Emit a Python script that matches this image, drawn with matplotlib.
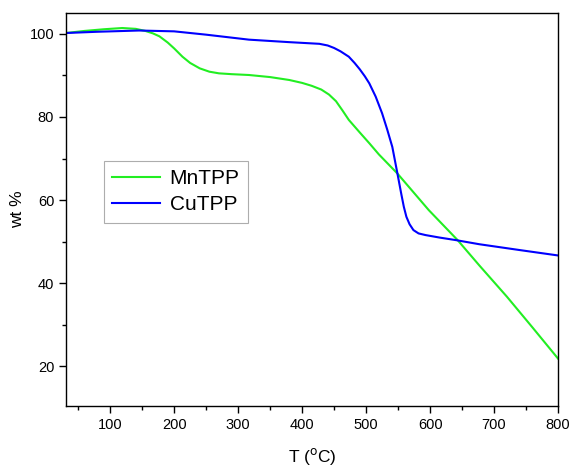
import matplotlib
matplotlib.use("Agg")
import matplotlib.pyplot as plt
from matplotlib.ticker import MultipleLocator

plt.rcParams['font.family'] = ['Liberation Sans', 'DejaVu Sans']

T_mn = [31, 60, 90, 119, 140, 155, 167, 177, 190, 200, 213, 225, 240, 255, 270, 290, 317, 350, 380, 400, 415,
        430, 442, 453, 463, 473, 490, 505, 520, 549, 598, 643, 677, 720, 760, 800]
wt_mn = [100.2, 100.7, 101.1, 101.4, 101.2, 100.7, 100.1, 99.4, 97.9, 96.5, 94.5, 93.0, 91.7, 90.9, 90.5, 90.3, 90.1, 89.6, 88.9, 88.2, 87.5,
         86.6, 85.4, 83.8, 81.6, 79.3, 76.3, 73.7, 71.0, 66.4, 57.6, 50.4, 44.3, 36.8, 29.4, 21.9]

T_cu = [31, 80, 145, 200, 250, 317, 380, 427, 440, 450, 460, 473, 482, 490, 498, 505, 515, 525, 533, 541,
        549, 555, 559, 563, 568, 574, 582, 593, 615, 640, 677, 740, 800]
wt_cu = [100.2, 100.5, 100.8, 100.6, 99.8, 98.6, 98.0, 97.6, 97.2, 96.6, 95.8, 94.5, 93.0, 91.5, 89.8, 88.1, 84.9, 80.9, 77.0, 72.8,
         66.4, 61.5, 58.4, 56.0, 54.2, 52.8, 52.0, 51.6, 51.0, 50.4, 49.4, 48.0, 46.7]

labels = ["MnTPP", "CuTPP"]
colors = ["#22ee22", "#0000ff"]

fig = plt.figure(figsize=(5.7, 4.66), dpi=100)
ax = fig.add_axes([0.1158, 0.1288, 0.979 - 0.1158, 0.972 - 0.1288])
ax.plot(T_mn, wt_mn, color=colors[0], lw=1.5, label=labels[0])
ax.plot(T_cu, wt_cu, color=colors[1], lw=1.5, label=labels[1])

ax.set_xlim(31, 800)
ax.set_ylim(10.5, 105)
ax.xaxis.set_major_locator(MultipleLocator(100))
ax.xaxis.set_minor_locator(MultipleLocator(50))
ax.yaxis.set_major_locator(MultipleLocator(20))
ax.yaxis.set_minor_locator(MultipleLocator(10))
ax.tick_params(which='both', direction='out', top=False, right=False, labelsize=10.5, width=1)
ax.tick_params(which='major', length=5)
ax.tick_params(which='minor', length=3)
for s in ax.spines.values():
    s.set_linewidth(1)

ax.set_xlabel("T ($^{\\rm o}$C)", fontsize=12.5, labelpad=10)
ax.set_ylabel("wt %", fontsize=12.5, labelpad=3)

leg = ax.legend(loc='upper left', bbox_to_anchor=(0.077, 0.624), fontsize=15,
                frameon=True, fancybox=False, edgecolor='#999999', handlelength=2.3,
                borderpad=0.4, labelspacing=0.35, handletextpad=0.45, borderaxespad=0)
leg.get_frame().set_linewidth(0.8)

fig.savefig("out.png", dpi=100)
